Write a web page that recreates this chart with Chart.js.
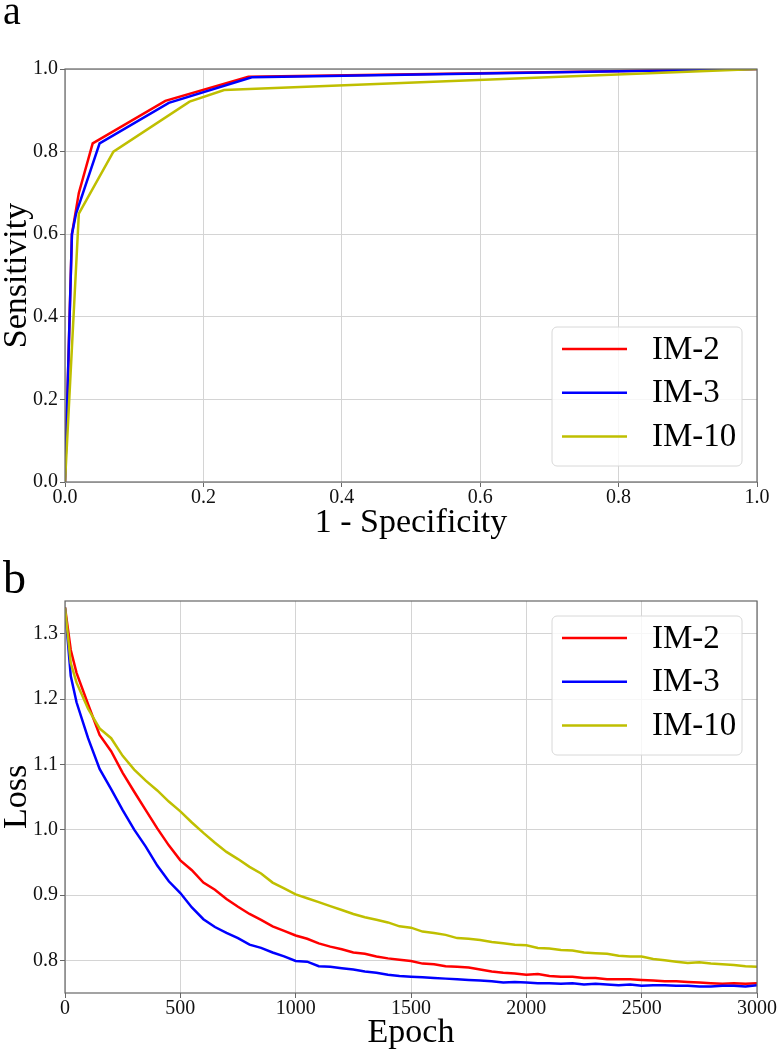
<!DOCTYPE html>
<html>
<head>
<meta charset="utf-8">
<title>ROC and loss curves</title>
<script src="https://cdn.jsdelivr.net/npm/chart.js@4/dist/chart.umd.min.js"></script>
<style>
  html, body { margin: 0; padding: 0; background: #fff; }
  #wrap { position: relative; width: 778px; height: 1050px; }
  canvas { position: absolute; left: 0; }
  #rocChart { top: 0; }
  #lossChart { top: 540px; }
</style>
</head>
<body>
<div id="wrap">
  <canvas id="rocChart" width="778" height="540"></canvas>
  <canvas id="lossChart" width="778" height="510"></canvas>
</div>
<script>
// ---- data ----
const seriesNames = ["IM-2", "IM-3", "IM-10"];
const seriesColors = ["#ff0000", "#0000ff", "#bfbf00"];

// panel a: ROC curves
const rocFprIM2 = [0, 0.010, 0.020, 0.040, 0.145, 0.265, 1.0];
const rocTprIM2 = [0, 0.600, 0.700, 0.820, 0.923, 0.981, 1.0];
const rocFprIM3 = [0, 0.010, 0.016, 0.050, 0.150, 0.270, 1.0];
const rocTprIM3 = [0, 0.600, 0.650, 0.820, 0.918, 0.980, 1.0];
const rocFprIM10 = [0, 0.020, 0.070, 0.180, 0.230, 1.0];
const rocTprIM10 = [0, 0.650, 0.800, 0.921, 0.949, 1.0];
const rocTicks = [0, 0.2, 0.4, 0.6, 0.8, 1.0];

// panel b: training loss
const epochs = [0, 25, 50, 100, 150, 200, 250, 300, 350, 400, 450, 500, 550, 600, 650, 700, 750, 800, 850, 900, 950,
  1000, 1050, 1100, 1150, 1200, 1250, 1300, 1350, 1400, 1450, 1500, 1550, 1600, 1650, 1700, 1750, 1800, 1850, 1900, 1950,
  2000, 2050, 2100, 2150, 2200, 2250, 2300, 2350, 2400, 2450, 2500, 2550, 2600, 2650, 2700, 2750, 2800, 2850, 2900, 2950, 3000];
const lossIM2 = [1.340, 1.275, 1.240, 1.192, 1.145, 1.120, 1.087, 1.058, 1.030, 1.002, 0.976, 0.953, 0.938, 0.919, 0.908, 0.894,
  0.882, 0.871, 0.862, 0.852, 0.845, 0.838, 0.833, 0.826, 0.821, 0.817, 0.812, 0.810, 0.806, 0.803, 0.801, 0.799, 0.795, 0.794,
  0.791, 0.790, 0.789, 0.786, 0.783, 0.781, 0.780, 0.778, 0.779, 0.776, 0.775, 0.775, 0.773, 0.773, 0.771, 0.771, 0.771, 0.770,
  0.769, 0.768, 0.768, 0.767, 0.766, 0.765, 0.764, 0.765, 0.764, 0.765];
const lossIM3 = [1.340, 1.235, 1.195, 1.140, 1.093, 1.062, 1.030, 1.000, 0.974, 0.945, 0.921, 0.903, 0.881, 0.863, 0.851, 0.842,
  0.834, 0.824, 0.819, 0.812, 0.806, 0.799, 0.798, 0.791, 0.790, 0.788, 0.786, 0.783, 0.781, 0.778, 0.776, 0.775, 0.774, 0.773,
  0.772, 0.771, 0.770, 0.769, 0.768, 0.766, 0.767, 0.766, 0.765, 0.765, 0.764, 0.765, 0.763, 0.764, 0.763, 0.762, 0.763, 0.761,
  0.762, 0.762, 0.761, 0.761, 0.760, 0.760, 0.761, 0.761, 0.760, 0.762];
const lossIM10 = [1.340, 1.255, 1.225, 1.185, 1.155, 1.140, 1.113, 1.092, 1.075, 1.060, 1.043, 1.028, 1.011, 0.995, 0.980, 0.966,
  0.955, 0.943, 0.933, 0.919, 0.910, 0.901, 0.895, 0.889, 0.883, 0.877, 0.871, 0.866, 0.862, 0.858, 0.852, 0.850, 0.844, 0.842,
  0.839, 0.834, 0.833, 0.831, 0.828, 0.826, 0.824, 0.823, 0.819, 0.818, 0.816, 0.815, 0.812, 0.811, 0.810, 0.807, 0.806, 0.806,
  0.802, 0.800, 0.798, 0.796, 0.797, 0.795, 0.794, 0.793, 0.791, 0.790];
const epochTicks = [0, 500, 1000, 1500, 2000, 2500, 3000];
const lossTicks = [0.8, 0.9, 1.0, 1.1, 1.2, 1.3];

const SERIF = "'Liberation Serif', 'Times New Roman', serif";

// zip two arrays into {x, y} points
function toPoints(xs, ys) {
    return xs.map((x, i) => ({ x: x, y: ys[i] }));
}

// matplotlib-like frame around the plot area
const framePlugin = {
    id: "frame",
    afterDraw(chart) {
        const { ctx, chartArea: a } = chart;
        ctx.save();
        ctx.strokeStyle = "#666";
        ctx.lineWidth = 1.2;
        ctx.strokeRect(a.left, a.top, a.right - a.left, a.bottom - a.top);
        ctx.restore();
    }
};

// boxed legend drawn inside the plot area
const boxLegendPlugin = {
    id: "boxLegend",
    afterDraw(chart, args, opts) {
        const { ctx, chartArea: a } = chart;
        const w = 190, h = 139;
        const x = a.right - 15 - w;
        const y = opts.corner === "top" ? a.top + 15 : a.bottom - 16 - h;
        ctx.save();
        ctx.beginPath();
        ctx.roundRect(x, y, w, h, 5);
        ctx.fillStyle = "rgba(255,255,255,0.8)";
        ctx.fill();
        ctx.strokeStyle = "#d8d8d8";
        ctx.lineWidth = 1;
        ctx.stroke();
        chart.data.datasets.forEach((ds, i) => {
            const ly = y + 22 + i * 43.7;
            ctx.strokeStyle = ds.borderColor;
            ctx.lineWidth = 2.5;
            ctx.beginPath();
            ctx.moveTo(x + 10, ly);
            ctx.lineTo(x + 75, ly);
            ctx.stroke();
            ctx.fillStyle = "#000";
            ctx.font = "33px " + SERIF;
            ctx.textBaseline = "middle";
            ctx.textAlign = "left";
            ctx.fillText(ds.label, x + 100, ly + 1);
        });
        ctx.restore();
    }
};

// panel letter (a / b)
const panelLetterPlugin = {
    id: "panelLetter",
    afterDraw(chart, args, opts) {
        const ctx = chart.ctx;
        ctx.save();
        ctx.fillStyle = "#000";
        ctx.font = opts.size + "px " + SERIF;
        ctx.textBaseline = "alphabetic";
        ctx.textAlign = "left";
        ctx.fillText(opts.text, opts.x, opts.y);
        ctx.restore();
    }
};

function axisOptions(opts) {
    return {
        type: "linear",
        min: opts.min,
        max: opts.max,
        afterBuildTicks: scale => { scale.ticks = opts.ticks.map(v => ({ value: v })); },
        afterFit: scale => {
            if (opts.width) scale.width = opts.width;
            if (opts.height) scale.height = opts.height;
        },
        ticks: {
            autoSkip: false,
            maxRotation: 0,
            color: "#111",
            padding: opts.tickPad,
            font: { family: SERIF, size: 20, lineHeight: 1 },
            callback: opts.format
        },
        grid: { color: "#d4d4d4", lineWidth: 1, tickLength: 5, tickColor: "#666" },
        border: { display: false },
        title: {
            display: true,
            text: opts.title,
            color: "#000",
            padding: 0,
            font: { family: SERIF, size: 34, lineHeight: 1 }
        }
    };
}

function makeDatasets(pointLists) {
    return pointLists.map((pts, i) => ({
        label: seriesNames[i],
        data: pts,
        borderColor: seriesColors[i],
        backgroundColor: seriesColors[i],
        borderWidth: 2.5,
        pointRadius: 0,
        tension: 0,
        fill: false,
        order: 3 - i
    }));
}

document.addEventListener("DOMContentLoaded", function () {
    // Panel a: ROC
    new Chart(document.getElementById("rocChart"), {
        type: "line",
        data: {
            datasets: makeDatasets([
                toPoints(rocFprIM2, rocTprIM2),
                toPoints(rocFprIM3, rocTprIM3),
                toPoints(rocFprIM10, rocTprIM10)
            ])
        },
        options: {
            responsive: false,
            animation: false,
            devicePixelRatio: 1,
            layout: { padding: { top: 69, right: 21, left: 0, bottom: 0 } },
            scales: {
                x: axisOptions({ min: 0, max: 1, ticks: rocTicks, height: 58, tickPad: 1,
                    title: "1 - Specificity", format: v => v.toFixed(1) }),
                y: axisOptions({ min: 0, max: 1, ticks: rocTicks, width: 65, tickPad: 2,
                    title: "Sensitivity", format: v => v.toFixed(1) })
            },
            plugins: {
                legend: { display: false },
                tooltip: { enabled: false },
                boxLegend: { corner: "bottom" },
                panelLetter: { text: "a", x: 3, y: 24, size: 40 }
            }
        },
        plugins: [framePlugin, boxLegendPlugin, panelLetterPlugin]
    });

    // Panel b: loss
    new Chart(document.getElementById("lossChart"), {
        type: "line",
        data: {
            datasets: makeDatasets([
                toPoints(epochs, lossIM2),
                toPoints(epochs, lossIM3),
                toPoints(epochs, lossIM10)
            ])
        },
        options: {
            responsive: false,
            animation: false,
            devicePixelRatio: 1,
            layout: { padding: { top: 61, right: 21, left: 0, bottom: 0 } },
            scales: {
                x: axisOptions({ min: 0, max: 3000, ticks: epochTicks, height: 57, tickPad: 1,
                    title: "Epoch", format: v => String(v) }),
                y: axisOptions({ min: 0.75, max: 1.35, ticks: lossTicks, width: 65, tickPad: 2,
                    title: "Loss", format: v => v.toFixed(1) })
            },
            plugins: {
                legend: { display: false },
                tooltip: { enabled: false },
                boxLegend: { corner: "top" },
                panelLetter: { text: "b", x: 3, y: 53, size: 46 }
            }
        },
        plugins: [framePlugin, boxLegendPlugin, panelLetterPlugin]
    });
});
</script>
</body>
</html>
